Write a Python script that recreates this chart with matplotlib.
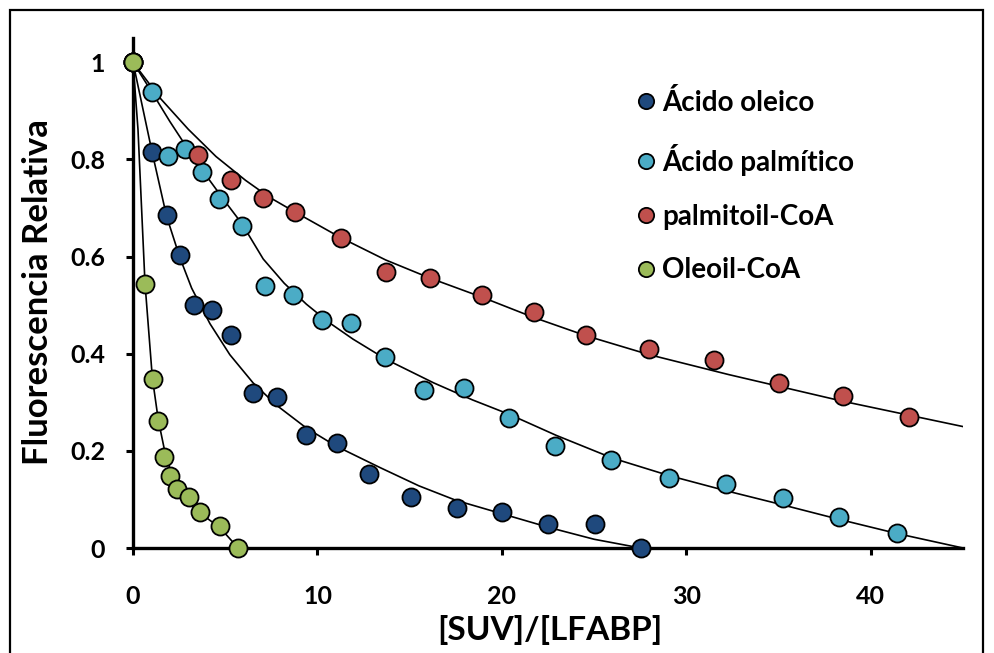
import matplotlib
matplotlib.use('Agg')
import matplotlib.pyplot as plt
from matplotlib.patches import Rectangle
from matplotlib.lines import Line2D

plt.rcParams['font.family'] = ['Lato', 'DejaVu Sans']
plt.rcParams['font.weight'] = 'bold'

# measured points (x = [SUV]/[LFABP], y = relative fluorescence)
oleic_x = [0, 1.03, 1.84, 2.54, 3.30, 4.28, 5.30, 6.50, 7.80, 9.37, 11.05, 12.78, 15.05, 17.54, 20.03, 22.50, 25.07, 27.56]
oleic_y = [1, 0.816, 0.685, 0.604, 0.501, 0.491, 0.439, 0.320, 0.311, 0.233, 0.216, 0.153, 0.105, 0.082, 0.074, 0.049, 0.049, 0.0]

palm_x = [0, 1.03, 1.90, 2.80, 3.74, 4.66, 5.90, 7.15, 8.66, 10.23, 11.80, 13.64, 15.78, 17.97, 20.40, 22.90, 25.93, 29.05, 32.13, 35.25, 38.28, 41.43]
palm_y = [1, 0.938, 0.808, 0.821, 0.775, 0.718, 0.662, 0.540, 0.520, 0.470, 0.464, 0.394, 0.326, 0.330, 0.267, 0.210, 0.181, 0.144, 0.131, 0.102, 0.063, 0.030]

pcoa_x = [0, 3.52, 5.30, 7.05, 8.77, 11.26, 13.70, 16.08, 18.93, 21.73, 24.56, 27.99, 31.51, 35.03, 38.51, 42.07]
pcoa_y = [1, 0.810, 0.757, 0.720, 0.691, 0.639, 0.569, 0.556, 0.520, 0.485, 0.439, 0.410, 0.388, 0.340, 0.312, 0.269]

ocoa_x = [0, 0.65, 1.09, 1.37, 1.68, 2.00, 2.39, 3.04, 3.65, 4.71, 5.69]
ocoa_y = [1, 0.543, 0.347, 0.262, 0.187, 0.148, 0.122, 0.106, 0.074, 0.045, 0.0]

# fitted curves
oleic_fit_x = [0, 1.03, 1.82, 2.54, 3.18, 4.17, 5.25, 6.51, 7.78, 9.40, 11.0, 13.37, 15.5, 17.52, 20.05, 22.58, 25.0, 27.1, 27.5]
oleic_fit_y = [1, 0.816, 0.683, 0.598, 0.535, 0.462, 0.398, 0.340, 0.294, 0.247, 0.210, 0.166, 0.128, 0.098, 0.070, 0.042, 0.018, 0.003, 0.0]

palm_fit_x = [0, 1.0, 2.0, 3.0, 4.0, 5.0, 5.9, 7.06, 8.2, 9.40, 10.6, 11.93, 13.74, 16.3, 18.4, 20.41, 22.94, 26.0, 29.07, 32.14, 35.2, 38.28, 41.4, 45]
palm_fit_y = [1, 0.940, 0.878, 0.820, 0.765, 0.713, 0.668, 0.595, 0.545, 0.502, 0.465, 0.430, 0.388, 0.340, 0.305, 0.275, 0.232, 0.185, 0.149, 0.118, 0.089, 0.059, 0.030, 0.0]

pcoa_fit_x = [0, 1.5, 3.0, 4.5, 6.1, 7.4, 8.77, 11.26, 13.7, 16.08, 18.95, 21.7, 24.56, 27.99, 32.3, 38.5, 45]
pcoa_fit_y = [1, 0.925, 0.862, 0.806, 0.757, 0.722, 0.692, 0.639, 0.593, 0.556, 0.516, 0.475, 0.437, 0.398, 0.357, 0.302, 0.250]

ocoa_fit_x = [0, 0.27, 0.65, 1.05, 1.37, 1.82, 2.45, 3.0, 3.63, 4.71, 5.7]
ocoa_fit_y = [1, 0.862, 0.545, 0.350, 0.264, 0.181, 0.124, 0.097, 0.072, 0.042, 0.0]

labels = ['Ácido oleico', 'Ácido palmítico', 'palmitoil-CoA', 'Oleoil-CoA']
colors = ['#1F497D', '#4BACC6', '#C0504D', '#9BBB59']

fig = plt.figure(figsize=(9.94, 6.53), dpi=100)
ax = fig.add_axes([133 / 994, 105 / 653, 830 / 994, 510 / 653])

# outer frame of the picture
fig.patches.append(Rectangle((10 / 994, -0.1), 973 / 994, 1.1 - 10 / 653, transform=fig.transFigure,
                             fill=False, edgecolor='black', linewidth=1.6))

series = [(oleic_x, oleic_y, oleic_fit_x, oleic_fit_y),
          (palm_x, palm_y, palm_fit_x, palm_fit_y),
          (pcoa_x, pcoa_y, pcoa_fit_x, pcoa_fit_y),
          (ocoa_x, ocoa_y, ocoa_fit_x, ocoa_fit_y)]

for x, y, fx, fy in series:
    ax.plot(fx, fy, color='black', linewidth=1.2, zorder=2)
for i, ((x, y, fx, fy), c) in enumerate(zip(series, colors)):
    ax.plot(x, y, 'o', markersize=13, markerfacecolor=c, markeredgecolor='black',
            markeredgewidth=1.3, zorder=3 + i, clip_on=False)

ax.set_xlim(0, 45)
ax.set_ylim(0, 1.05)
ax.set_xticks([0, 10, 20, 30, 40])
ax.set_yticks([0, 0.2, 0.4, 0.6, 0.8, 1.0])
ax.set_yticklabels(['0', '0.2', '0.4', '0.6', '0.8', '1'])

for side in ['top', 'right']:
    ax.spines[side].set_visible(False)
for side in ['left', 'bottom']:
    ax.spines[side].set_linewidth(2.4)

ax.tick_params(axis='both', direction='out', length=5, width=2.2, labelsize=18)
ax.tick_params(axis='x', pad=22)
ax.tick_params(axis='y', pad=15)

ax.set_xlabel('[SUV]/[LFABP]', fontsize=24, fontweight='bold')
ax.xaxis.set_label_coords(0.502, -0.132)
ax.set_ylabel('Fluorescencia Relativa', fontsize=25, fontweight='bold', va='center')
ax.yaxis.set_label_coords((38 - 133) / 830, (548 - 292) / 510)

handles = [Line2D([], [], marker='o', linestyle='none', markersize=11, markerfacecolor=c,
                  markeredgecolor='black', markeredgewidth=1.3) for c in colors]
ax.legend(handles, labels, loc='upper left', bbox_to_anchor=((636 - 133) / 830, (548 - 89) / 510),
          frameon=False, fontsize=20, handlelength=0.7, handletextpad=0.25,
          labelspacing=1.0, borderpad=0, borderaxespad=0)

plt.savefig('out.png', dpi=100)
plt.close(fig)
